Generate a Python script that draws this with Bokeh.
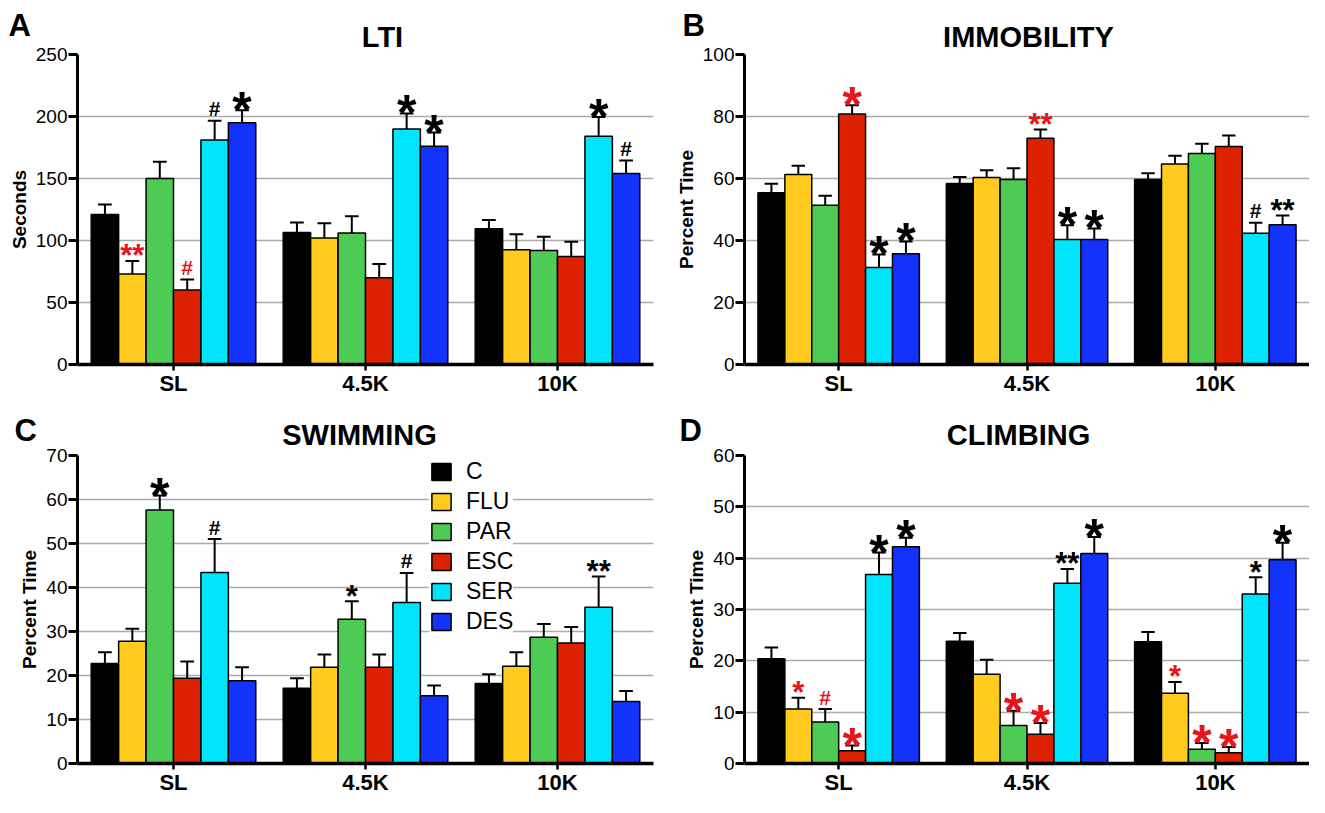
from bokeh.plotting import figure
from bokeh.models import Range1d, FixedTicker, Legend, LegendItem, ColumnDataSource
from bokeh.layouts import column, row
from bokeh.embed import file_html
from bokeh.resources import INLINE
from bokeh.core.properties import value

FONT = "Liberation Sans"

conditions = ["SL", "4.5K", "10K"]
drugs = ["C", "FLU", "PAR", "ESC", "SER", "DES"]
drug_colors = ["#000000", "#FFCB1F", "#4DCB55", "#DE2200", "#00E4FC", "#1433FA"]

# ---- A: LTI (seconds), order: SL x6 drugs, 4.5K x6, 10K x6
lti_mean = [121, 73, 150, 60, 181, 195,
            106.5, 102, 106, 70, 190, 176,
            109.5, 92.5, 92, 87, 184, 154]
lti_sem = [8, 10.5, 13.5, 8.5, 15.5, 10,
           8, 12, 13.5, 11, 12.5, 11,
           7, 12.5, 11, 12, 15.5, 10.5]
lti_sig = ["", "**", "", "#", "#", "*",
           "", "", "", "", "*", "*",
           "", "", "", "", "*", "#"]
lti_sig_red = [0, 1, 0, 1, 0, 0, 0, 0, 0, 0, 0, 0, 0, 0, 0, 0, 0, 0]
lti_sig_big = [0, 0, 0, 0, 0, 1, 0, 0, 0, 0, 1, 1, 0, 0, 0, 0, 1, 0]

# ---- B: Immobility (percent time)
imm_mean = [55.4, 61.3, 51.4, 80.8, 31.3, 35.7,
            58.4, 60.3, 59.7, 73.0, 40.3, 40.3,
            59.7, 64.7, 68.1, 70.3, 42.3, 45.1]
imm_sem = [2.9, 2.8, 3.0, 2.8, 4.2, 4.0,
           2.1, 2.4, 3.6, 2.8, 4.6, 3.6,
           2.0, 2.6, 3.1, 3.6, 3.4, 3.0]
imm_sig = ["", "", "", "*", "*", "*",
           "", "", "", "**", "*", "*",
           "", "", "", "", "#", "**"]
imm_sig_red = [0, 0, 0, 1, 0, 0, 0, 0, 0, 1, 0, 0, 0, 0, 0, 0, 0, 0]
imm_sig_big = [0, 0, 0, 1, 1, 1, 0, 0, 0, 0, 1, 1, 0, 0, 0, 0, 0, 0]

# ---- C: Swimming (percent time)
swim_mean = [22.7, 27.8, 57.6, 19.4, 43.4, 18.8,
             17.1, 21.9, 32.8, 21.9, 36.6, 15.4,
             18.2, 22.1, 28.7, 27.4, 35.5, 14.1]
swim_sem = [2.6, 2.8, 3.3, 3.8, 7.6, 3.1,
            2.3, 2.9, 4.1, 2.9, 6.7, 2.3,
            2.1, 3.2, 3.0, 3.6, 7.0, 2.4]
swim_sig = ["", "", "*", "", "#", "",
            "", "", "*", "", "#", "",
            "", "", "", "", "**", ""]
swim_sig_red = [0] * 18
swim_sig_big = [0, 0, 1, 0, 0, 0, 0, 0, 0, 0, 0, 0, 0, 0, 0, 0, 0, 0]

# ---- D: Climbing (percent time)
climb_mean = [20.4, 10.6, 8.1, 2.5, 36.8, 42.2,
              23.8, 17.4, 7.4, 5.7, 35.1, 40.9,
              23.7, 13.7, 2.8, 2.1, 33.0, 39.7]
climb_sem = [2.2, 2.2, 2.5, 1.0, 4.3, 1.8,
             1.6, 2.8, 2.9, 2.2, 2.8, 3.2,
             1.9, 2.2, 1.2, 1.1, 3.3, 3.3]
climb_sig = ["", "*", "#", "*", "*", "*",
             "", "", "*", "*", "**", "*",
             "", "*", "*", "*", "*", "*"]
climb_sig_red = [0, 1, 1, 1, 0, 0, 0, 0, 1, 1, 0, 0, 0, 1, 1, 1, 0, 0]
climb_sig_big = [0, 0, 0, 1, 1, 1, 0, 0, 1, 1, 0, 1, 0, 0, 1, 1, 0, 1]

panel_letters = ["A", "B", "C", "D"]
panel_titles = ["LTI", "IMMOBILITY", "SWIMMING", "CLIMBING"]

RED = "#E8141C"
TOTAL_W = 1309


def make_panel(ylabel, ymax, ystep, means, sems, sig, sig_red, sig_big,
               width, height, bl, br, bt, bb, legend=False):
    ng, nd = len(conditions), len(drugs)
    gap = nd + 1
    p = figure(width=width, height=height, min_border_left=bl, min_border_right=br,
               min_border_top=bt, min_border_bottom=bb,
               x_range=Range1d(-gap / 2, gap * ng - gap / 2), y_range=Range1d(0, ymax),
               output_backend="svg", toolbar_location=None, tools="")
    p.title.visible = False
    p.outline_line_color = None
    p.border_fill_alpha = 0

    xs = [gap * g + d - (nd - 1) / 2 for g in range(ng) for d in range(nd)]
    cols = [drug_colors[d] for g in range(ng) for d in range(nd)]
    hi = [m + s for m, s in zip(means, sems)]
    src = ColumnDataSource(dict(x=xs, top=means, hi=hi,
                                xl=[x - 0.25 for x in xs], xr=[x + 0.25 for x in xs],
                                color=cols))
    bars = p.vbar(x="x", top="top", bottom=0, width=1, fill_color="color",
                  line_color="black", line_width=1.5, source=src)
    p.segment(x0="x", y0="top", x1="x", y1="hi", line_color="black", line_width=2, source=src)
    p.segment(x0="xl", y0="hi", x1="xr", y1="hi", line_color="black", line_width=2, source=src)

    # significance marks: (font size, y offset in px)
    styles = {
        "big": ("50px", 0),
        "small": ("31px", -5),
        "hash": ("21px", -12),
    }
    groups = {}
    for i, t in enumerate(sig):
        if not t:
            continue
        if t == "#":
            k = "hash"
        elif t == "*" and sig_big[i]:
            k = "big"
        else:
            k = "small"
        d = groups.setdefault(k, dict(x=[], y=[], t=[], c=[]))
        d["x"].append(xs[i])
        d["y"].append(hi[i])
        d["t"].append(t)
        d["c"].append(RED if sig_red[i] else "black")
    for k, d in groups.items():
        fs, off = styles[k]
        p.text(x="x", y="y", text="t", text_color="c", source=ColumnDataSource(d),
               text_font=value(FONT), text_font_style="bold", text_font_size=fs,
               text_align="center", text_baseline="alphabetic", y_offset=off)

    # axes
    p.xgrid.grid_line_color = None
    p.ygrid.grid_line_color = "#ababab"
    p.ygrid.grid_line_width = 1.4
    p.yaxis.ticker = FixedTicker(ticks=list(range(0, ymax + 1, ystep)))
    p.xaxis.ticker = FixedTicker(ticks=[gap * g for g in range(ng)])
    p.xaxis.major_label_overrides = {gap * g: conditions[g] for g in range(ng)}
    for ax in (p.xaxis, p.yaxis):
        ax.axis_line_color = "black"
        ax.major_tick_line_color = "black"
        ax.minor_tick_line_color = None
        ax.major_tick_in = 0
        ax.major_label_text_color = "black"
        ax.major_label_text_font = FONT
    p.yaxis.axis_line_width = 3
    p.yaxis.major_tick_line_width = 3
    p.yaxis.major_tick_out = 9
    p.yaxis.major_label_standoff = 1
    p.yaxis.major_label_text_font_size = "19px"
    p.yaxis.axis_label = ylabel
    p.yaxis.axis_label_text_font = FONT
    p.yaxis.axis_label_text_font_style = "bold"
    p.yaxis.axis_label_text_font_size = "19px"
    p.yaxis.axis_label_text_color = "black"
    p.yaxis.axis_label_standoff = 3
    p.xaxis.axis_line_width = 3.5
    p.xaxis.major_tick_line_width = 2.5
    p.xaxis.major_tick_out = 6
    p.xaxis.major_label_standoff = 0
    p.xaxis.major_label_text_font_size = "22px"
    p.xaxis.major_label_text_font_style = "bold"

    if legend:
        fh = height - bt - bb
        items = [LegendItem(label=drugs[d], renderers=[bars], index=d) for d in range(nd)]
        leg = Legend(items=items, location=(352, fh - 182), padding=4, margin=0, spacing=3,
                     glyph_width=24, glyph_height=21, label_standoff=13,
                     label_text_font=FONT, label_text_font_size="23px",
                     label_text_color="black",
                     background_fill_color="white", background_fill_alpha=1.0,
                     border_line_color=None)
        p.add_layout(leg)
    return p


def make_strip(height, letters, letter_x, letter_y, titles, title_x, title_y):
    s = figure(width=TOTAL_W, height=height, x_range=Range1d(0, TOTAL_W),
               y_range=Range1d(height, 0), x_axis_type=None, y_axis_type=None,
               min_border=0, output_backend="svg", toolbar_location=None, tools="")
    s.title.visible = False
    s.outline_line_color = None
    s.grid.visible = False
    s.border_fill_alpha = 0
    s.background_fill_alpha = 0
    s.text(x=letter_x, y=letter_y, text=letters, text_font=value(FONT),
           text_font_style="bold", text_font_size="31px", text_color="black",
           text_align="left", text_baseline="alphabetic")
    s.text(x=title_x, y=title_y, text=titles, text_font=value(FONT),
           text_font_style="bold", text_font_size="29px", text_color="black",
           text_align="center", text_baseline="alphabetic")
    return s


OVERLAP = 11
strip1 = make_strip(54, panel_letters[:2], [8, 682], [25, 25],
                    panel_titles[:2], [382, 1028], [36, 36])
pa = make_panel("Seconds", 250, 50, lti_mean, lti_sem, lti_sig, lti_sig_red, lti_sig_big,
                660, 357, 77, 7, OVERLAP, 36)
pb = make_panel("Percent Time", 100, 20, imm_mean, imm_sem, imm_sig, imm_sig_red,
                imm_sig_big, 649, 357, 84, 0, OVERLAP, 36)
strip2 = make_strip(55, panel_letters[2:], [14, 679], [30, 30],
                    panel_titles[2:], [359, 1018], [34, 34])
pc = make_panel("Percent Time", 70, 10, swim_mean, swim_sem, swim_sig, swim_sig_red,
                swim_sig_big, 660, 353, 77, 7, OVERLAP, 32, legend=True)
pd = make_panel("Percent Time", 60, 10, climb_mean, climb_sem, climb_sig, climb_sig_red,
                climb_sig_big, 649, 353, 84, 0, OVERLAP, 32)

row1 = row(pa, pb, margin=(-OVERLAP, 0, 0, 0))
row2 = row(pc, pd, margin=(-OVERLAP, 0, 0, 0))
layout = column(strip1, row1, strip2, row2)
open("out.html", "w").write(file_html(layout, INLINE))
